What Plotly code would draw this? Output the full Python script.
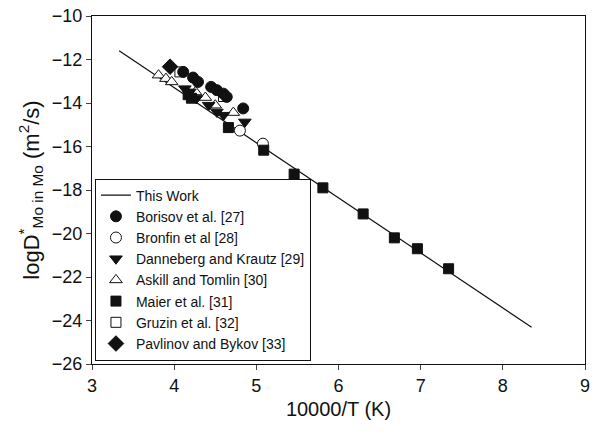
import plotly.graph_objects as go

# ---- data ----
line_x = [3.33, 8.35]
line_y = [-11.60, -24.31]

borisov_x = [4.11, 4.23, 4.29, 4.45, 4.52, 4.60, 4.64, 4.84]
borisov_y = [-12.57, -12.83, -13.03, -13.26, -13.41, -13.57, -13.72, -14.25]

bronfin_x = [4.80, 5.08]
bronfin_y = [-15.27, -15.87]

danneberg_x = [4.13, 4.19, 4.27, 4.42, 4.52, 4.60, 4.86]
danneberg_y = [-13.34, -13.49, -13.79, -14.10, -14.41, -14.56, -14.87]

askill_x = [3.81, 3.90, 3.97, 4.26, 4.38, 4.50, 4.72]
askill_y = [-12.72, -12.88, -13.03, -13.49, -13.75, -14.10, -14.44]

maier_x = [4.17, 4.21, 4.66, 5.09, 5.46, 5.81, 6.30, 6.68, 6.96, 7.34]
maier_y = [-13.62, -13.78, -15.13, -16.17, -17.27, -17.90, -19.10, -20.20, -20.70, -21.62]

gruzin_x = [4.07, 4.60]
gruzin_y = [-12.57, -13.70]

pavlinov_x = [3.95]
pavlinov_y = [-12.33]

x_ticks = [3, 4, 5, 6, 7, 8, 9]
y_ticks = [-10, -12, -14, -16, -18, -20, -22, -24, -26]

FONT = "Liberation Sans, Arial, Helvetica, sans-serif"
BLACK = "#111111"

fig = go.Figure()
fig.add_trace(go.Scatter(x=line_x, y=line_y, mode="lines", name="This Work",
                         line=dict(color=BLACK, width=1.2)))


def mk(x, y, name, symbol, filled, size):
    fig.add_trace(go.Scatter(
        x=x, y=y, mode="markers", name=name,
        marker=dict(symbol=symbol, size=size,
                    color=BLACK if filled else "white",
                    line=dict(color=BLACK, width=1))))


mk(askill_x, askill_y, "Askill and Tomlin [30]", "triangle-up", False, 11)
mk(bronfin_x, bronfin_y, "Bronfin et al [28]", "circle", False, 11)
mk(maier_x, maier_y, "Maier et al. [31]", "square", True, 10)
mk(danneberg_x, danneberg_y, "Danneberg and Krautz [29]", "triangle-down", True, 11)
mk(gruzin_x, gruzin_y, "Gruzin et al. [32]", "square", False, 10)
mk(borisov_x, borisov_y, "Borisov et al. [27]", "circle", True, 11)
mk(pavlinov_x, pavlinov_y, "Pavlinov and Bykov [33]", "diamond", True, 12)

fig.update_layout(
    width=596, height=435,
    margin=dict(l=92, r=6, t=16, b=71),
    paper_bgcolor="white", plot_bgcolor="white",
    font=dict(family=FONT, color=BLACK, size=14),
    showlegend=True,
    legend=dict(x=0.006, y=0.01, xanchor="left", yanchor="bottom",
                bgcolor="white", bordercolor=BLACK, borderwidth=1,
                traceorder="normal",
                font=dict(size=14, family=FONT, color=BLACK),
                tracegroupgap=0),
)
# legend order as in the reference
order = ["This Work", "Borisov et al. [27]", "Bronfin et al [28]",
         "Danneberg and Krautz [29]", "Askill and Tomlin [30]",
         "Maier et al. [31]", "Gruzin et al. [32]", "Pavlinov and Bykov [33]"]
for tr in fig.data:
    tr.legendrank = order.index(tr.name) + 1

fig.update_xaxes(range=[3, 9], tickvals=x_ticks, ticks="outside", ticklen=5,
                 showline=True, linecolor=BLACK, linewidth=1, mirror=True,
                 showgrid=False, zeroline=False, ticklabeloverflow="allow",
                 tickfont=dict(size=18),
                 title=dict(text="10000/T (K)", font=dict(size=20), standoff=7))
fig.update_yaxes(range=[-26, -10], tickvals=y_ticks, ticks="outside", ticklen=5,
                 showline=True, linecolor=BLACK, linewidth=1, mirror=True,
                 showgrid=False, zeroline=False,
                 tickfont=dict(size=18),
                 title=dict(text="logD<sup>*</sup><sub>Mo in Mo</sub> (m<sup>2</sup>/s)",
                            font=dict(size=22), standoff=6))

fig.write_html("out.html")
